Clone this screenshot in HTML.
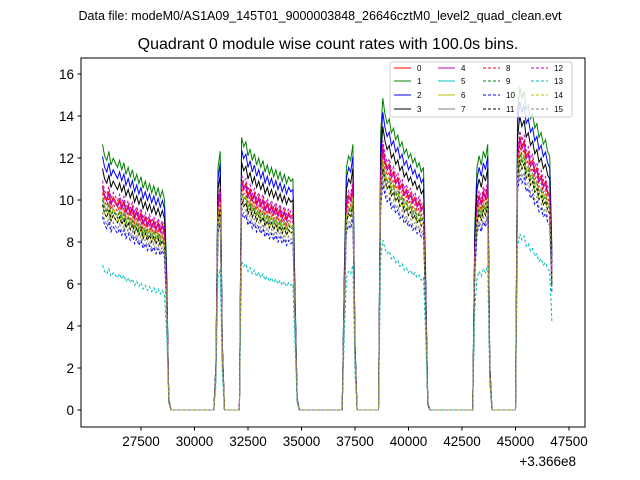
<!DOCTYPE html>
<html><head><meta charset="utf-8"><style>
body{margin:0;background:#fff;}
svg{display:block;font-family:"Liberation Sans","DejaVu Sans",sans-serif;}
</style></head><body>
<svg id="chart" width="640" height="480" viewBox="0 0 640 480">
<rect width="640" height="480" fill="#fff"/>
<text x="320" y="20" font-size="12.5" text-anchor="middle">Data file: modeM0/AS1A09_145T01_9000003848_26646cztM0_level2_quad_clean.evt</text>
<text x="328" y="49" font-size="16" text-anchor="middle">Quadrant 0 module wise count rates with 100.0s bins.</text>
<g id="series"></g>
<rect x="81" y="58" width="504" height="369" fill="none" stroke="#000" stroke-width="1"/>
<g id="axes"></g>
<text x="576" y="466" font-size="13.5" text-anchor="end">+3.366e8</text>
<g id="legend"></g>
</svg>
<script>
const startTime = 25700;
const binSize = 100;
// profile of reference module (module 3) per 100 s bin
const profile = [].concat(
 [11.5,11,10.8,11.2,10.6,10.9,10.7,10.5,10.8,10.4,10.7,10.2,10.5,10.1,10.4,9.9,10.2,9.8,10.1,9.6,9.9,9.5,9.8,9.4,9.7,9.3,9.6,9.2,9.5,9.1,6,0.5],
 [0,0,0,0,0,0,0,0,0,0,0,0,0,0,0,0,0,0,0,0,0],
 [2,10.5,11.2,3],
 [0,0,0,0,0,0,0,0],
 [11.8,11.4,11.6,11,11.3,10.8,11.1,10.6,10.9,10.5,10.8,10.3,10.6,10.2,10.5,10.1,10.4,10,10.3,9.9,10.2,9.8,10.1,9.9,10,5,0.5],
 [0,0,0,0,0,0,0,0,0,0,0,0,0,0,0,0,0,0,0,0,0],
 [6,10.5,11,10.8,11.5,3],
 [0,0,0,0,0,0,0,0,0,0,0],
 [12,13.5,12.8,12.4,12.6,12,12.2,11.7,11.9,11.4,11.6,11.1,11.3,10.9,11.1,10.7,10.9,10.5,10.7,10.3,10.5,6,0.3],
 [0,0,0,0,0,0,0,0,0,0,0,0,0,0,0,0,0,0,0,0,0],
 [8,10.5,11,10.6,11.2,10.9,11.5,2],
 [0,0,0,0,0,0,0,0,0,0,0,0],
 [13,14,13.5,13.8,13,13.2,12.6,12.8,12.2,12.4,11.8,12,11.5,11.7,11.2,11,7]
);
const moduleScale = [0.93,1.1,1.05,1,0.92,0.88,0.85,0.88,0.9,0.87,0.8,0.85,0.95,0.6,0.88,0.82];
const moduleLabels = ["0","1","2","3","4","5","6","7","8","9","10","11","12","13","14","15"];
const colors = ["#ff0000","#008000","#0000ff","#000000","#bf00bf","#00bfbf","#bfbf00","#808080","#ff0000","#008000","#0000ff","#000000","#bf00bf","#00bfbf","#bfbf00","#808080"];
const xTicks = [27500,30000,32500,35000,37500,40000,42500,45000,47500];
const yTicks = [0,2,4,6,8,10,12,14,16];

const NS="http://www.w3.org/2000/svg";
const xs = t => 141 + (t-27500)*0.0214;
const ys = v => 410 - v*21;
function mk(tag,attrs,parent){const e=document.createElementNS(NS,tag);for(const k in attrs)e.setAttribute(k,attrs[k]);parent.appendChild(e);return e;}
const sg=document.getElementById('series');
for(let s=0;s<16;s++){
  let d='';
  profile.forEach((p,i)=>{d+=(i?'L':'M')+xs(startTime+i*binSize).toFixed(1)+','+ys(p*moduleScale[s]).toFixed(1);});
  const p=mk('path',{d:d,fill:'none',stroke:colors[s],'stroke-width':1,'stroke-dasharray':s>=8?'3,2':'none'},sg);
  
  
}
const ax=document.getElementById('axes');
xTicks.forEach(t=>{
  const l=mk('line',{x1:xs(t),x2:xs(t),y1:427,y2:430.5,stroke:'#000'},ax);
  
  
  const tx=mk('text',{x:xs(t),y:446,'font-size':13.5,'text-anchor':'middle'},ax);
  tx.textContent=t;
  
  
});
yTicks.forEach(v=>{
  const l=mk('line',{x1:77.5,x2:81,y1:ys(v),y2:ys(v),stroke:'#000'},ax);
  
  
  const tx=mk('text',{x:74,y:ys(v)+5,'font-size':13.5,'text-anchor':'end'},ax);
  tx.textContent=v;
  
  
});
const lg=document.getElementById('legend');
const box=mk('rect',{x:390,y:62,width:182,height:55,rx:2,fill:'#fff','fill-opacity':0.8,stroke:'#ccc'},lg);


const colX=[394,438,483,531], rowY=[68,81,95,109];
for(let s=0;s<16;s++){
  const c=Math.floor(s/4), r=s%4;
  const ln=mk('line',{x1:colX[c],x2:colX[c]+17,y1:rowY[r],y2:rowY[r],stroke:colors[s],'stroke-width':1,'stroke-dasharray':s>=8?'3,2':'none'},lg);
  
  
  const tx=mk('text',{x:colX[c]+23,y:rowY[r]+3,'font-size':8},lg);
  tx.textContent=moduleLabels[s];
  
  
}
</script>
</body></html>
